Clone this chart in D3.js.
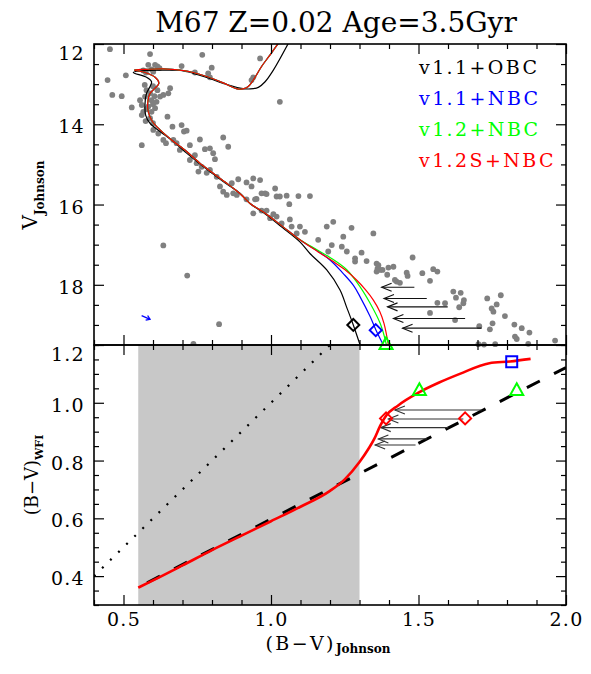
<!DOCTYPE html>
<html>
<head>
<meta charset="utf-8">
<script src="https://cdn.jsdelivr.net/npm/d3@7"></script>
<style>
  body { margin: 0; background: #fff; }
  svg text { font-family: "DejaVu Serif", serif; fill: #000; }
</style>
</head>
<body>
<svg id="chart" width="591" height="674"></svg>
<script>
// ---------------- data ----------------
const titleText = "M67 Z=0.02 Age=3.5Gyr";

// axis ticks
const bvTicks = [0.5, 1.0, 1.5, 2.0];
const vTicks = [12, 14, 16, 18];
const wfiTicks = [0.4, 0.6, 0.8, 1.0, 1.2];

// M67 photometry: [(B-V)_Johnson, V_Johnson]
const stars = [
  [0.454,12.13],[0.590,12.25],[0.767,12.27],[0.963,12.36],[0.508,12.78],[0.446,12.90],[0.462,13.27],[0.494,13.30],[0.528,13.58],
  [0.584,12.52],[0.607,12.52],[0.615,12.56],[0.595,12.63],[0.576,12.71],[0.567,12.66],[0.601,12.69],[0.622,12.60],
  [0.697,12.55],[0.742,12.71],[0.799,12.59],[0.787,12.73],[0.793,12.83],[0.940,12.83],[0.934,12.90],[1.030,13.44],
  [0.578,13.15],[0.590,13.23],[0.573,13.31],[0.556,13.40],[0.595,13.40],[0.562,13.52],[0.584,13.56],[0.607,13.60],
  [0.567,13.69],[0.595,13.69],[0.562,13.77],[0.590,13.85],[0.612,13.44],[0.624,13.31],[0.615,13.15],[0.600,13.05],
  [0.572,13.02],[0.605,13.30],[0.578,13.62],[0.600,13.50],[0.575,13.92],[0.600,13.97],
  [0.658,13.10],[0.652,13.23],[0.635,13.27],
  [0.649,13.81],[0.666,14.06],[0.697,14.02],[0.705,14.18],[0.714,14.16],[0.562,14.52],
  [0.601,14.14],[0.618,14.23],[0.635,14.39],[0.644,14.47],[0.669,14.39],[0.680,14.47],[0.691,14.64],[0.725,14.52],
  [0.759,14.38],[0.838,14.33],[0.855,14.56],[0.776,14.62],[0.793,14.60],[0.804,14.72],[0.810,14.87],[0.742,14.77],
  [0.725,14.89],[0.748,14.97],[0.765,15.06],[0.754,15.18],[0.782,15.21],[0.793,15.14],[0.816,15.31],[0.827,15.55],
  [0.867,15.47],[0.889,15.37],[0.917,15.45],[0.940,15.35],[0.934,15.55],[0.963,15.39],[1.014,15.60],[0.838,15.68],
  [0.850,15.76],[0.872,15.72],[0.968,15.72],[0.980,15.72],[1.030,15.80],[1.053,15.78],[1.093,15.79],[1.132,15.79],
  [0.951,15.86],[0.884,15.76],[0.985,15.74],[1.019,15.80],[1.062,15.99],[0.917,15.87],[0.946,15.87],
  [0.940,16.22],[0.968,16.15],[0.985,16.15],[1.008,16.24],[1.019,16.30],[0.997,16.34],[1.064,16.37],[1.036,16.47],
  [1.070,16.55],[1.098,16.55],[1.115,16.68],[1.087,16.72],[1.160,16.88],[1.189,16.55],[1.211,16.43],[1.245,16.80],
  [1.273,16.58],[1.347,16.72],[1.206,17.01],[1.194,17.17],[1.240,17.05],[1.257,17.17],[1.307,17.20],[1.285,17.34],
  [1.285,17.42],[1.324,17.41],[1.358,17.47],[1.358,17.67],
  [0.635,17.02],[0.716,17.77],[0.824,18.98],[0.737,19.47],
  [1.364,17.51],[1.370,17.63],[1.361,17.60],[1.378,17.63],[1.398,17.57],[1.415,17.55],[1.394,17.75],[1.420,17.88],
  [1.437,17.95],[1.426,17.92],[1.460,17.70],[1.463,17.78],[1.480,17.32],[1.513,17.71],[1.539,17.90],[1.550,17.61],
  [1.564,17.67],[1.618,18.17],[1.643,18.20],[1.627,18.32],[1.654,18.38],[1.652,18.46],[1.638,18.56],[1.564,18.45],
  [1.590,18.46],[1.539,18.70],[1.624,18.88],[1.706,19.03],[1.733,18.34],[1.765,18.49],[1.779,18.26],[1.748,18.59],
  [1.754,18.67],[1.793,18.78],[1.742,19.11],[1.751,18.96],[1.825,18.99],[1.850,19.08],[1.827,19.29],[1.833,19.35],
  [1.876,19.19],[1.963,19.39],[1.872,19.47],[1.703,19.48],[1.722,19.49],[1.760,19.48]
];

// isochrones: shared giant / subgiant / turn-off track of the NBC models, from the giant branch downwards
const nbcUpper = [
  [1.025,11.98],[0.997,12.27],[0.968,12.56],[0.940,12.90],[0.923,13.06],[0.905,13.12],[0.885,13.12],[0.838,12.97],
  [0.782,12.81],[0.737,12.71],[0.692,12.65],[0.635,12.62],[0.578,12.63],[0.537,12.65],[0.573,12.71],[0.607,12.83],
  [0.620,12.98],[0.607,13.10],[0.590,13.23],[0.582,13.48],[0.584,13.69],[0.598,13.93],[0.624,14.14],[0.663,14.39],
  [0.714,14.68],[0.759,14.97],[0.804,15.22],[0.850,15.47],[0.880,15.64],[0.905,15.80],[0.930,15.98],[0.985,16.24],
  [1.040,16.55],[1.098,16.88]
];
// lower main sequence of each NBC model
const lowerV11NBC  = [[1.098,16.88],[1.143,17.09],[1.200,17.38],[1.245,17.72],[1.280,18.02],[1.302,18.30],[1.336,18.79],[1.356,19.13],[1.381,19.50]];
const lowerV12NBC  = [[1.098,16.88],[1.143,17.07],[1.200,17.32],[1.256,17.62],[1.302,18.05],[1.336,18.46],[1.370,18.96],[1.390,19.46],[1.392,19.55]];
const lowerV12SNBC = [[1.098,16.88],[1.160,17.18],[1.211,17.42],[1.250,17.62],[1.290,17.88],[1.320,18.12],[1.347,18.38],[1.369,18.67],[1.383,18.96],[1.398,19.50]];
// v1.1 with old bolometric corrections
const isoV11OBC = [
  [1.059,11.98],[1.008,12.65],[0.980,12.94],[0.957,13.08],[0.930,13.12],[0.895,13.10],[0.838,12.98],[0.782,12.83],
  [0.737,12.73],[0.692,12.66],[0.635,12.65],[0.578,12.66],[0.533,12.71],[0.578,12.83],[0.595,12.94],[0.590,13.06],
  [0.578,13.23],[0.573,13.48],[0.575,13.77],[0.590,13.98],[0.624,14.18],[0.669,14.43],[0.714,14.72],[0.759,14.99],
  [0.804,15.24],[0.850,15.49],[0.895,15.72],[0.930,15.98],[0.985,16.26],[1.040,16.58],[1.098,16.93],[1.132,17.22],
  [1.189,17.63],[1.234,18.13],[1.256,18.55],[1.279,19.00],[1.302,19.50]
];

// markers on the lower main sequence
const topDiamondBlack = [1.279, 19.00];
const topDiamondBlue  = [1.355, 19.13];
const topTriangleGreen = [1.390, 19.47];

// colour shifts (top panel): V, (B-V) start, (B-V) end
const topShiftV    = [18.06, 18.34, 18.55, 18.84, 19.08];
const topShiftFrom = [1.486, 1.528, 1.599, 1.658, 1.714];
const topShiftTo   = [1.375, 1.383, 1.395, 1.415, 1.446];

// reddening vector
const reddening = [[0.5615, 18.77], [0.590, 18.86]];

// lower panel: (B-V)_Johnson vs (B-V)_WFI
const fitBand = [0.55, 1.30];
const oneToOne = [[0.4, 0.4], [1.2, 1.2]];
const wfiFit = [[0.58, 0.377], [2.0, 1.122]];
const wfiRelation = [
  [0.55,0.360],[0.60,0.385],[0.70,0.437],[0.80,0.490],[0.90,0.540],[1.00,0.590],[1.10,0.640],[1.20,0.695],
  [1.25,0.735],[1.30,0.795],[1.33,0.840],[1.35,0.875],[1.37,0.920],[1.39,0.955],[1.43,0.990],[1.50,1.035],
  [1.57,1.070],[1.64,1.100],[1.74,1.137],[1.81,1.143],[1.88,1.152]
];
const botShiftY    = [0.975, 0.944, 0.914, 0.875, 0.854];
const botShiftFrom = [1.714, 1.652, 1.601, 1.528, 1.490];
const botShiftTo   = [1.420, 1.398, 1.372, 1.364, 1.353];
const botSquareBlue = [[1.816, 1.142]];
const botTrianglesGreen = [[1.503, 1.045], [1.833, 1.045]];
const botDiamondsRed = [[1.390, 0.946], [1.658, 0.946]];

const legendLabels = ["v1.1+OBC", "v1.1+NBC", "v1.2+NBC", "v1.2S+NBC"];
const legendColors = ["#000000", "#0000ff", "#00ff00", "#ff0000"];

// ---------------- layout ----------------
const svg = d3.select("#chart");
const pL = 94, pR = 566, pT = 44, pM = 345, pB = 605;

const x = d3.scaleLinear().domain([0.4, 2.0]).range([pL, pR]);
const yTop = d3.scaleLinear().domain([12, 19.5]).range([pT, pM]);
const yBot = d3.scaleLinear().domain([0.3, 1.2]).range([pB, pM]);

const defs = svg.append("defs");
defs.append("clipPath").attr("id", "clipTop")
  .append("rect").attr("x", pL).attr("y", pT).attr("width", pR - pL).attr("height", pM - pT);
defs.append("clipPath").attr("id", "clipBot")
  .append("rect").attr("x", pL).attr("y", pM).attr("width", pR - pL).attr("height", pB - pM);

// marker paths (pixel size)
const diamondPath = r => `M0,${-r}L${r},0L0,${r}L${-r},0Z`;
const trianglePath = r => `M0,${-r}L${r},${r * 0.8}L${-r},${r * 0.8}Z`;
const squarePath = r => `M${-r},${-r}H${r}V${r}H${-r}Z`;

// ---------------- top panel ----------------
const gTop = svg.append("g");

gTop.append("g").selectAll("circle").data(stars).join("circle")
  .attr("cx", d => x(d[0])).attr("cy", d => yTop(d[1])).attr("r", 2.9)
  .attr("fill", "#808080");

const isoLine = d3.line().x(d => x(d[0])).y(d => yTop(d[1])).curve(d3.curveCatmullRom.alpha(0.5));
const gIso = gTop.append("g").attr("clip-path", "url(#clipTop)").attr("fill", "none").attr("stroke-width", 1.2);
gIso.append("path").attr("d", isoLine(isoV11OBC)).attr("stroke", legendColors[0]);
gIso.append("path").attr("d", isoLine(nbcUpper.concat(lowerV11NBC.slice(1)))).attr("stroke", legendColors[1]);
gIso.append("path").attr("d", isoLine(nbcUpper.concat(lowerV12NBC.slice(1)))).attr("stroke", legendColors[2]);
gIso.append("path").attr("d", isoLine(nbcUpper.concat(lowerV12SNBC.slice(1)))).attr("stroke", legendColors[3]);

function marker(g, pos, sx, sy, pathFn, r, color) {
  g.append("path").attr("d", pathFn(r))
    .attr("transform", `translate(${sx(pos[0])},${sy(pos[1])})`)
    .attr("fill", "none").attr("stroke", color).attr("stroke-width", 2);
}
marker(gTop, topDiamondBlack, x, yTop, diamondPath, 6, "#000");
marker(gTop, topDiamondBlue, x, yTop, diamondPath, 6, "#0000ff");
marker(gTop, topTriangleGreen, x, yTop, trianglePath, 6.5, "#00ff00");

// leftward arrows with open chevron heads
function arrows(g, ys, from, to, sy, color, width) {
  ys.forEach((v, i) => {
    const xa = x(from[i]), xb = x(to[i]), yy = sy(v);
    g.append("line").attr("x1", xa).attr("x2", xb).attr("y1", yy).attr("y2", yy)
      .attr("stroke", color).attr("stroke-width", width);
    g.append("path").attr("d", `M${xb + 10},${yy - 4}L${xb},${yy}L${xb + 10},${yy + 4}`)
      .attr("fill", "none").attr("stroke", color).attr("stroke-width", width);
  });
}
arrows(gTop, topShiftV, topShiftFrom, topShiftTo, yTop, "#111", 1.1);

// reddening vector
{
  const x1 = x(reddening[0][0]), y1 = yTop(reddening[0][1]);
  const x2 = x(reddening[1][0]), y2 = yTop(reddening[1][1]);
  const ang = Math.atan2(y2 - y1, x2 - x1);
  const h = 4.5;
  gTop.append("line").attr("x1", x1).attr("y1", y1).attr("x2", x2).attr("y2", y2)
    .attr("stroke", "#0000ff").attr("stroke-width", 1.3);
  const p1 = [x2 - h * Math.cos(ang - 0.6), y2 - h * Math.sin(ang - 0.6)];
  const p2 = [x2 - h * Math.cos(ang + 0.6), y2 - h * Math.sin(ang + 0.6)];
  gTop.append("path").attr("d", `M${p1}L${x2},${y2}L${p2}`)
    .attr("fill", "none").attr("stroke", "#0000ff").attr("stroke-width", 1.3);
}

// legend
legendLabels.forEach((t, i) => {
  svg.append("text").attr("x", 419).attr("y", 74 + i * 31)
    .attr("font-size", 19).attr("letter-spacing", 2.4)
    .style("fill", legendColors[i]).text(t);
});

// ---------------- bottom panel ----------------
const gBot = svg.append("g").attr("clip-path", "url(#clipBot)");

gBot.append("rect")
  .attr("x", x(fitBand[0])).attr("width", x(fitBand[1]) - x(fitBand[0]))
  .attr("y", pM).attr("height", pB - pM).attr("fill", "#c8c8c8");

const botLine = d3.line().x(d => x(d[0])).y(d => yBot(d[1]));
gBot.append("path").attr("d", botLine(oneToOne)).attr("fill", "none")
  .attr("stroke", "#000").attr("stroke-width", 2.2).attr("stroke-dasharray", "2 9.3");
gBot.append("path").attr("d", botLine(wfiFit)).attr("fill", "none")
  .attr("stroke", "#000").attr("stroke-width", 3).attr("stroke-dasharray", "14.5 16");

const gBotTop = svg.append("g");
arrows(gBotTop, botShiftY, botShiftFrom, botShiftTo, yBot, "#333", 1.1);

gBotTop.append("path")
  .attr("d", d3.line().x(d => x(d[0])).y(d => yBot(d[1])).curve(d3.curveMonotoneX)(wfiRelation))
  .attr("fill", "none").attr("stroke", "#ff0000").attr("stroke-width", 2.6);

botSquareBlue.forEach(p => marker(gBotTop, p, x, yBot, squarePath, 5.5, "#0000ff"));
botTrianglesGreen.forEach(p => marker(gBotTop, p, x, yBot, trianglePath, 6.5, "#00ff00"));
botDiamondsRed.forEach(p => marker(gBotTop, p, x, yBot, diamondPath, 6, "#ff0000"));

// ---------------- axes ----------------
const near = (a, b) => Math.abs(a - b) < 1e-6;
const bvMinor = d3.range(4, 21).map(k => k / 10).filter(v => !bvTicks.some(t => near(t, v)));
const vMinor = d3.range(24, 40).map(k => k / 2).filter(v => !vTicks.some(t => near(t, v)));
const wfiMinor = d3.range(6, 25).map(k => k / 20).filter(v => !wfiTicks.some(t => near(t, v)));

function tickAxis(axisFn, scale, values, size, pos, fmt) {
  const a = axisFn(scale).tickValues(values).tickSize(-size).tickPadding(9)
    .tickFormat(fmt || (() => ""));
  const g = svg.append("g").attr("transform", pos).call(a);
  g.select(".domain").remove();
  g.selectAll(".tick line").attr("stroke", "#000").attr("stroke-width", 1.2);
  g.selectAll("text").attr("font-size", 19).attr("letter-spacing", 1.3)
    .attr("font-family", "DejaVu Serif");
  return g;
}

// top panel axes
const gVl = tickAxis(d3.axisLeft, yTop, vTicks, 10, `translate(${pL},0)`, d3.format("d"));
gVl.selectAll("text").attr("dy", d => near(d, 12) ? "0.82em" : "0.45em");
tickAxis(d3.axisLeft, yTop, vMinor, 5, `translate(${pL},0)`);
tickAxis(d3.axisRight, yTop, vTicks, 10, `translate(${pR},0)`);
tickAxis(d3.axisRight, yTop, vMinor, 5, `translate(${pR},0)`);
tickAxis(d3.axisTop, x, bvTicks, 10, `translate(0,${pT})`);
tickAxis(d3.axisTop, x, bvMinor, 5, `translate(0,${pT})`);
tickAxis(d3.axisBottom, x, bvTicks, 10, `translate(0,${pM})`);
tickAxis(d3.axisBottom, x, bvMinor, 5, `translate(0,${pM})`);

// bottom panel axes
const gWl = tickAxis(d3.axisLeft, yBot, wfiTicks, 10, `translate(${pL},0)`, d3.format(".1f"));
gWl.selectAll("text").attr("dy", d => near(d, 1.2) ? "0.82em" : "0.45em");
tickAxis(d3.axisLeft, yBot, wfiMinor, 5, `translate(${pL},0)`);
tickAxis(d3.axisRight, yBot, wfiTicks, 10, `translate(${pR},0)`);
tickAxis(d3.axisRight, yBot, wfiMinor, 5, `translate(${pR},0)`);
tickAxis(d3.axisTop, x, bvTicks, 10, `translate(0,${pM})`);
tickAxis(d3.axisTop, x, bvMinor, 5, `translate(0,${pM})`);
const gXb = tickAxis(d3.axisBottom, x, bvTicks, 10, `translate(0,${pB})`, d3.format(".1f"));
gXb.selectAll("text").attr("y", 8);
tickAxis(d3.axisBottom, x, bvMinor, 5, `translate(0,${pB})`);

// panel frames
[[pT, pM], [pM, pB]].forEach(([a, b]) => {
  svg.append("rect").attr("x", pL).attr("y", a).attr("width", pR - pL).attr("height", b - a)
    .attr("fill", "none").attr("stroke", "#000").attr("stroke-width", 1.6);
});

// ---------------- titles ----------------
svg.append("text").attr("x", 336).attr("y", 32).attr("text-anchor", "middle")
  .attr("font-size", 28).text(titleText);

// x title
{
  const t = svg.append("text").attr("x", 328).attr("y", 650).attr("text-anchor", "middle");
  t.append("tspan").attr("font-size", 19).attr("letter-spacing", 2.4).text("(B\u2212V)");
  t.append("tspan").attr("font-size", 12).attr("font-weight", "bold").attr("dy", 3).text("Johnson");
}
// top y title
{
  const t = svg.append("text").attr("transform", "translate(37,195) rotate(-90)").attr("text-anchor", "middle");
  t.append("tspan").attr("font-size", 20).text("V");
  t.append("tspan").attr("font-size", 12).attr("font-weight", "bold").attr("dy", 7).text("Johnson");
}
// bottom y title
{
  const t = svg.append("text").attr("transform", "translate(38,475) rotate(-90)").attr("text-anchor", "middle");
  t.append("tspan").attr("font-size", 18).text("(B\u2212V)");
  t.append("tspan").attr("font-size", 11).attr("font-weight", "bold").attr("dy", 5).text("WFI");
}
</script>
</body>
</html>
